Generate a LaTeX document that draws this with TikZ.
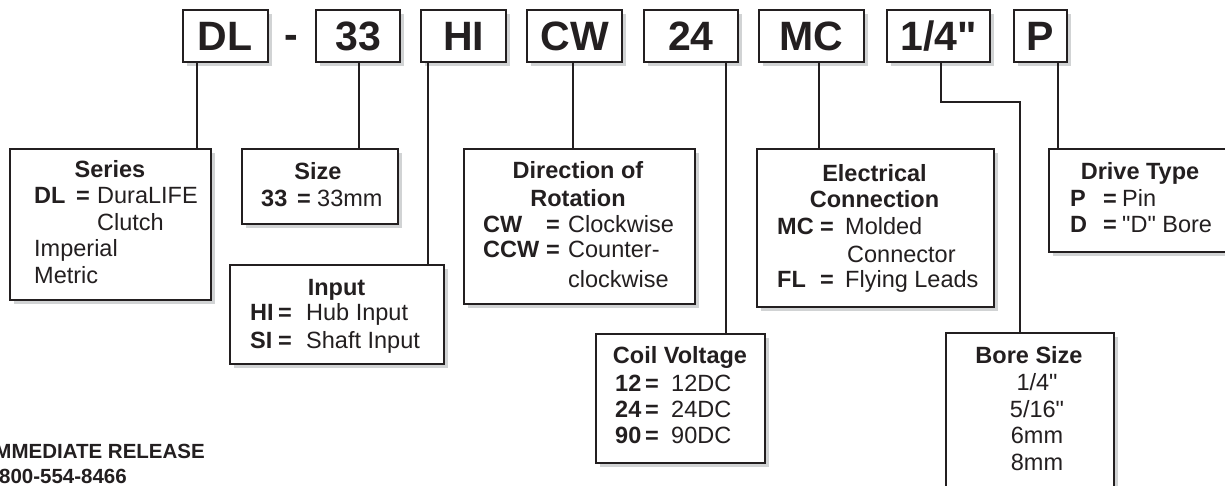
\documentclass[tikz,border=0pt]{standalone}
\usepackage{fontspec}
\setmainfont{Liberation Sans}[Ligatures=TeXOff]
\usetikzlibrary{calc,shadows}
\definecolor{ink}{HTML}{231F20}
\definecolor{shade}{HTML}{D1D3D4}
\newcommand\topfont{\fontsize{41}{41}\selectfont\bfseries}
\newcommand\bodyfont{\fontsize{23.5}{26}\selectfont}
\tikzset{
  box/.style={draw=ink, line width=2.2pt, fill=white, inner sep=0pt, anchor=north west,
    drop shadow={shadow xshift=4pt, shadow yshift=-4pt, fill=shade, opacity=1}},
  topbox/.style={box, minimum height=51.4pt, font=\topfont, text=ink},
  conn/.style={draw=ink, line width=1.8pt},
  lbl/.style={inner sep=0pt, anchor=base west, font=\bodyfont, text=ink},
  key/.style={lbl, font=\bodyfont\bfseries},
  hd/.style={inner sep=0pt, anchor=base, font=\bodyfont\bfseries, text=ink},
  ctr/.style={inner sep=0pt, anchor=base, font=\bodyfont, text=ink},
  foot/.style={inner sep=0pt, anchor=base east, font=\fontsize{20.5}{20.5}\selectfont\bfseries, text=ink}
}
\begin{document}
\begin{tikzpicture}[x=1pt,y=-1pt]
\clip (0,0) rectangle (1225,486);
% ---- top code boxes
\node[topbox, minimum width=85pt]   (dl)  at (181.7,9.3) {DL};
\node[inner sep=0pt, anchor=base, font=\topfont, text=ink] (dash) at (291,48.8) {-};
\node[topbox, minimum width=84pt]   (sz)  at (315,9.3)   {33};
\node[topbox, minimum width=85pt]   (hi)  at (420,9.3)   {HI};
\node[topbox, minimum width=95pt]   (cw)  at (526,9.3)   {CW};
\node[topbox, minimum width=94pt]   (vo)  at (642.7,9.3) {24};
\node[topbox, minimum width=105pt]  (mc)  at (758,9.3)   {MC};
\node[topbox, minimum width=103.3pt](bq)  at (885.7,9.3) {1/4"};
\node[topbox, minimum width=53.3pt] (pp)  at (1012.7,9.3){P};
% ---- connector x positions
\coordinate (x1) at (196.7,0);
\coordinate (x2) at (359,0);
\coordinate (x3) at (428,0);
\coordinate (x4) at (573,0);
\coordinate (x5) at (726,0);
\coordinate (x6) at (819,0);
\coordinate (e1) at (941,102);
\coordinate (e2) at (1020,102);
\coordinate (x8) at (1057.7,0);
% ---- description boxes (empty frames)
\node[box, minimum width=201pt, minimum height=151pt] (series) at (9,148) {};
\node[box, minimum width=156pt, minimum height=75pt]  (size)   at (241,148) {};
\node[box, minimum width=214pt, minimum height=99pt]  (input)  at (229,264) {};
\node[box, minimum width=231pt, minimum height=155pt] (dir)    at (463,148) {};
\node[box, minimum width=237pt, minimum height=158pt] (elec)   at (756,148) {};
\node[box, minimum width=200pt, minimum height=103pt] (drive)  at (1048,148) {};
\node[box, minimum width=168.5pt, minimum height=129pt] (coil) at (595,333) {};
\node[box, minimum width=168pt, minimum height=180pt] (bore)   at (945,332) {};
% ---- connectors
\draw[conn] (x1 |- dl.south) -- (x1 |- series.north);
\draw[conn] (x2 |- sz.south) -- (x2 |- size.north);
\draw[conn] (x3 |- hi.south) -- (x3 |- input.north);
\draw[conn] (x4 |- cw.south) -- (x4 |- dir.north);
\draw[conn] (x5 |- vo.south) -- (x5 |- coil.north);
\draw[conn] (x6 |- mc.south) -- (x6 |- elec.north);
\draw[conn] (e1 |- bq.south) -- (e1) -- (e2) -- (e2 |- bore.north);
\draw[conn] (x8 |- pp.south) -- (x8 |- drive.north);
% ---- Series
\node[hd]  (t1)  at (110,178) {Series};
\node[key] (t2)  at (34,204)  {DL};
\node[key] (t3)  at (76,204)  {=};
\node[lbl] (t4)  at (97,204)  {DuraLIFE};
\node[lbl] (t5)  at (97,231)  {Clutch};
\node[lbl] (t6)  at (34,257)  {Imperial};
\node[lbl] (t7)  at (34,283)  {Metric};
% ---- Size
\node[hd]  (t8)  at (318,180) {Size};
\node[key] (t9)  at (261,207) {33};
\node[key] (t10) at (297,207) {=};
\node[lbl] (t11) at (317,207) {33mm};
% ---- Input
\node[hd]  (t12) at (336.5,295) {Input};
\node[key] (t13) at (250,320) {HI};
\node[key] (t14) at (278,320) {=};
\node[lbl] (t15) at (306,320) {Hub Input};
\node[key] (t16) at (250,348) {SI};
\node[key] (t17) at (278,348) {=};
\node[lbl] (t18) at (306,348) {Shaft Input};
% ---- Direction
\node[hd]  (t19) at (578,179) {Direction of};
\node[hd]  (t20) at (578,207) {Rotation};
\node[key] (t21) at (483,233) {CW};
\node[key] (t22) at (546,233) {=};
\node[lbl] (t23) at (568,233) {Clockwise};
\node[key] (t24) at (483,258) {CCW};
\node[key] (t25) at (546,258) {=};
\node[lbl] (t26) at (568,258) {Counter-};
\node[lbl] (t27) at (568,287) {clockwise};
% ---- Electrical
\node[hd]  (t28) at (874.5,182) {Electrical};
\node[hd]  (t29) at (874.5,208) {Connection};
\node[key] (t30) at (777,235) {MC};
\node[key] (t31) at (820,235) {=};
\node[lbl] (t32) at (845,235) {Molded};
\node[lbl] (t33) at (847,262) {Connector};
\node[key] (t34) at (777,287) {FL};
\node[key] (t35) at (820,287) {=};
\node[lbl] (t36) at (845,287) {Flying Leads};
% ---- Drive type
\node[hd]  (t37) at (1140,180) {Drive Type};
\node[key] (t38) at (1070,207) {P};
\node[key] (t39) at (1103,207) {=};
\node[lbl] (t40) at (1122,207) {Pin};
\node[key] (t41) at (1070,233) {D};
\node[key] (t42) at (1103,233) {=};
\node[lbl] (t43) at (1122,233) {"D" Bore};
% ---- Coil voltage
\node[hd]  (t44) at (680,363) {Coil Voltage};
\node[key] (t45) at (615,391) {12};
\node[key] (t46) at (645,391) {=};
\node[lbl] (t47) at (671,391) {12DC};
\node[key] (t48) at (615,417) {24};
\node[key] (t49) at (645,417) {=};
\node[lbl] (t50) at (671,417) {24DC};
\node[key] (t51) at (615,443) {90};
\node[key] (t52) at (645,443) {=};
\node[lbl] (t53) at (671,443) {90DC};
% ---- Bore size
\node[hd]  (t54) at (1029,363) {Bore Size};
\node[ctr] (t55) at (1037,390) {1/4"};
\node[ctr] (t56) at (1037,417) {5/16"};
\node[ctr] (t57) at (1037,443) {6mm};
\node[ctr] (t58) at (1037,470) {8mm};
% ---- footer text
\node[foot] (f1) at (205,458) {IMMEDIATE RELEASE};
\node[foot] (f2) at (127,483) {800-554-8466};
\end{tikzpicture}
\end{document}
